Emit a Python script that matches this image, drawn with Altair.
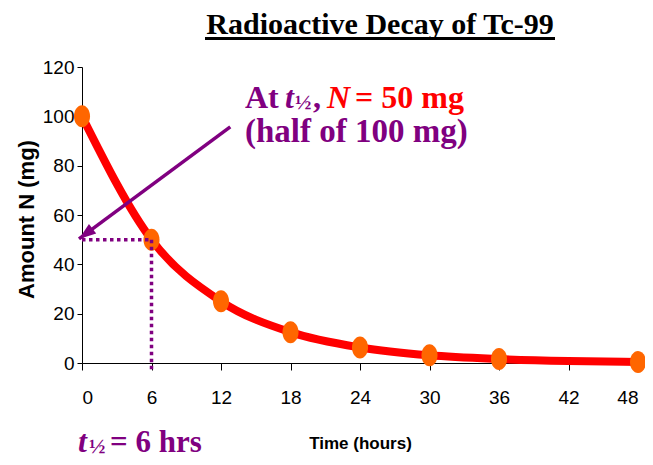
import altair as alt
import pandas as pd

# ---- data ----
time_hours = [0, 6, 12, 18, 24, 30, 36, 42, 48]
amount_mg = [100, 50, 25, 12.5, 6.3, 3.1, 1.6, 0.8, 0.4]
point_times = [0, 6, 12, 18, 24, 30, 36, 48]
point_amounts = [100, 50, 25, 12.5, 6.3, 3.1, 1.6, 0.4]
x_ticks = [0, 6, 12, 18, 24, 30, 36, 42, 48]
y_ticks = [0, 20, 40, 60, 80, 100, 120]

half_life = 6
half_amount = 50
guide_h_x = [0, 6]
guide_h_y = [50, 50]
guide_v_x = [6, 6]
guide_v_y = [50, -4]
arrow_x = [12.8, -0.26]
arrow_y = [95.7, 50.3]

title_text = "Radioactive Decay of Tc-99"
x_title = "Time (hours)"
y_title = "Amount N (mg)"

PURPLE = "#800080"
RED = "#FF0000"
ORANGE = "#FF6600"
SERIF = "Liberation Serif"
SANS = "Liberation Sans"

xs = alt.Scale(domain=[0, 48], nice=False, zero=False)
ys = alt.Scale(domain=[0, 120], nice=False)

curve_df = pd.DataFrame({"t": time_hours, "n": amount_mg})
pts_df = pd.DataFrame({"t": point_times, "n": point_amounts})

base_x = alt.X("t:Q", scale=xs, axis=alt.Axis(
    values=x_ticks, title=x_title, grid=False, domainColor="black",
    tickColor="black", tickSize=7, labelPadding=18, labelFontSize=19,
    labelFont=SANS, labelColor="black", labelBaseline="top",
    titleFont=SANS, titleFontSize=17, titleFontWeight="bold",
    titleColor="black", titleX=278, titleY=85, titleBaseline="alphabetic",
    titleAlign="center"))
base_y = alt.Y("n:Q", scale=ys, axis=alt.Axis(
    values=y_ticks, title=y_title, grid=False, domainColor="black",
    tickColor="black", tickSize=5, labelPadding=3, labelFontSize=19,
    labelFont=SANS, labelColor="black",
    titleFont=SANS, titleFontSize=22, titleFontWeight="bold",
    titleColor="black", titleX=-56, titleY=152, titleAngle=-90,
    titleAlign="center", titleBaseline="middle"))

curve = alt.Chart(curve_df).mark_line(
    color=RED, strokeWidth=8, interpolate="monotone"
).encode(x=base_x, y=base_y)

ellipse = "M -0.73 0 A 0.73 1 0 1 0 0.73 0 A 0.73 1 0 1 0 -0.73 0 Z"
points = alt.Chart(pts_df).mark_point(
    shape=ellipse, size=484, filled=True, color=ORANGE, opacity=1
).encode(x=alt.X("t:Q", scale=xs), y=alt.Y("n:Q", scale=ys))

guide_df = pd.DataFrame({
    "x": [guide_h_x[0], guide_v_x[0]], "x2": [guide_h_x[1], guide_v_x[1]],
    "y": [guide_h_y[0], guide_v_y[0]], "y2": [guide_h_y[1], guide_v_y[1]],
})
guides = alt.Chart(guide_df).mark_rule(
    color=PURPLE, strokeWidth=3.5, strokeDash=[3.5, 3.5]
).encode(x=alt.X("x:Q", scale=xs), x2="x2:Q",
         y=alt.Y("y:Q", scale=ys), y2="y2:Q")

arrow_df = pd.DataFrame({"x": [arrow_x[0]], "x2": [arrow_x[1]],
                         "y": [arrow_y[0]], "y2": [arrow_y[1]]})
arrow_line = alt.Chart(arrow_df).mark_rule(
    color=PURPLE, strokeWidth=3.5
).encode(x=alt.X("x:Q", scale=xs), x2="x2:Q",
         y=alt.Y("y:Q", scale=ys), y2="y2:Q")

head_df = pd.DataFrame({"x": [arrow_x[1]], "y": [arrow_y[1]]})
arrow_head = alt.Chart(head_df).mark_point(
    shape="M 0 0 L 0.6 1.7 L -0.6 1.7 Z", size=400, filled=True,
    color=PURPLE, opacity=1, angle=233
).encode(x=alt.X("x:Q", scale=xs), y=alt.Y("y:Q", scale=ys))


def label(txt, x, y, size=32, color=PURPLE, style="normal", weight="bold",
          font=SERIF, align="left"):
    return alt.Chart(pd.DataFrame({"label": [txt]})).mark_text(
        font=font, fontSize=size, fontWeight=weight, fontStyle=style,
        color=color, align=align, baseline="alphabetic"
    ).encode(text="label:N", x=alt.value(x), y=alt.value(y))


texts = [
    label(title_text, 298, -33, size=30, color="black", align="center"),
    label("At", 163, 41),
    label("t", 203, 41, style="italic"),
    label("½", 213, 42, size=22),
    label(",", 231, 41),
    label("N", 245, 41, color=RED, style="italic"),
    label("= 50 mg", 273, 41, color=RED),
    label("(half of 100 mg)", 163, 75, size=33),
    label("t", -4, 385, style="italic"),
    label("½", 7, 386, size=22),
    label("= 6 hrs", 28, 385, size=31),
]

underline = alt.Chart(pd.DataFrame({"k": [0]})).mark_rule(
    color="black", strokeWidth=3
).encode(x=alt.value(123), x2=alt.value(473), y=alt.value(-28.5))

chart = alt.layer(
    curve, points, guides, arrow_line, arrow_head, underline, *texts
).properties(
    width=556, height=296,
    autosize=alt.AutoSizeParams(type="none"),
    padding={"left": 74, "top": 59, "right": 7, "bottom": 100},
).configure_view(stroke=None).configure_axis(domainWidth=1, tickWidth=1)

chart.save("out.html", embed_options={"renderer": "svg", "actions": False})
